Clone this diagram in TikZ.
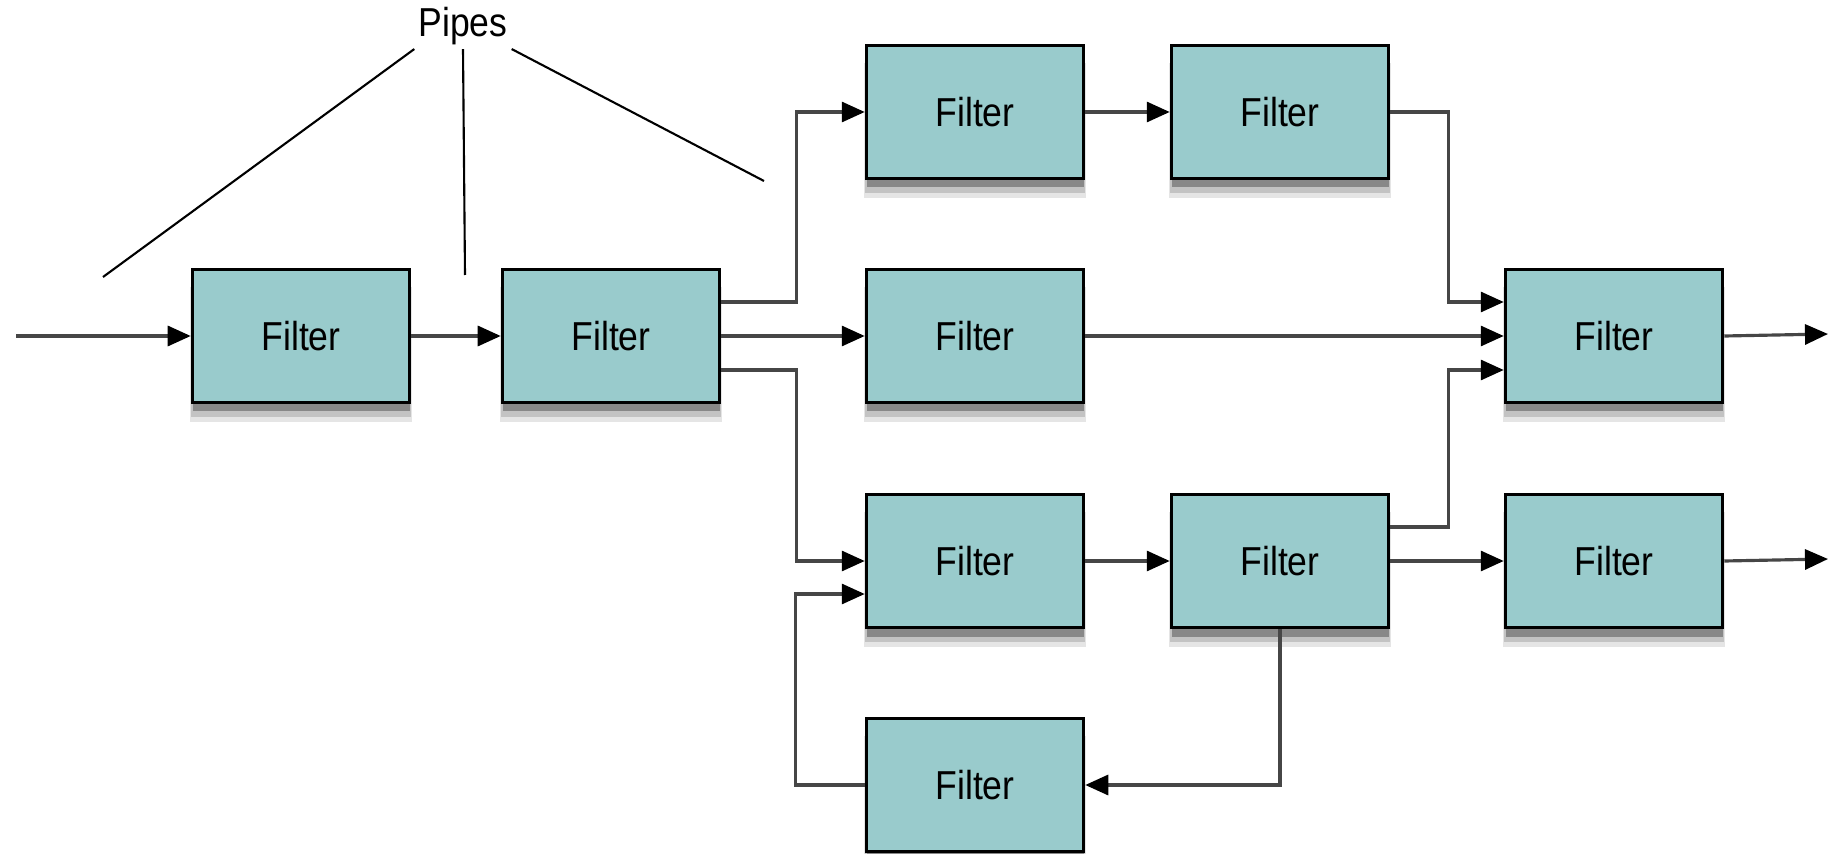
\documentclass[tikz,border=0pt]{standalone}
\usepackage{fontspec}
\setmainfont{Liberation Sans}[FakeStretch=0.88]
\usetikzlibrary{arrows.meta,shadows}
\definecolor{filterfill}{RGB}{153,203,204}
\definecolor{pipegray}{RGB}{70,70,70}
\tikzset{
    filter-box/.style = {draw=black, fill=filterfill, line width=1pt, rectangle, minimum width=21.7mm, minimum height=13.3mm, font=\fontsize{11.5}{13}\selectfont,
        general shadow={shadow yshift=-1.8mm, shadow scale=1.02, opacity=0.10, fill=black},
        general shadow={shadow yshift=-1.4mm, shadow scale=1.01, opacity=0.15, fill=black},
        general shadow={shadow yshift=-0.9mm, opacity=0.30, fill=black}},
    pipe/.style = {draw=pipegray, line width=0.9pt, -{Triangle[length=2.3mm, width=2mm, color=black]}},
    label-line/.style = {draw=black, line width=0.6pt},
}

\begin{document}
\begin{tikzpicture}[x=0.1mm, y=-0.1mm]
\useasboundingbox (0,0) rectangle (1828,854);
% filters
\node[filter-box] (f1) at (301,336) {Filter};
\node[filter-box] (f2) at (611,336) {Filter};
\node[filter-box] (top1) at (975,112) {Filter};
\node[filter-box] (top2) at (1280,112) {Filter};
\node[filter-box] (mid) at (975,336) {Filter};
\node[filter-box] (join) at (1614,336) {Filter};
\node[filter-box] (low1) at (975,561) {Filter};
\node[filter-box] (low2) at (1280,561) {Filter};
\node[filter-box] (low3) at (1614,561) {Filter};
\node[filter-box] (loop) at (975,785) {Filter};
% label and its lines
\node[font=\fontsize{11.5}{13}\selectfont, inner sep=1pt] (pipes) at (463,26) {Pipes};
\coordinate (pipeA) at (103,277);
\coordinate (pipeB) at (465,275);
\coordinate (pipeC) at (764,181);
\draw[label-line] (pipes.south west) -- (pipeA);
\draw[label-line] (pipes.south) -- (pipeB);
\draw[label-line] (pipes.south east) -- (pipeC);
% free ends
\coordinate (in) at (16,336);
\coordinate (out1) at (1828,334);
\coordinate (out2) at (1828,559);
% pipes
\draw[pipe] (in) -- (f1.west);
\draw[pipe] (f1) -- (f2);
\draw[pipe] ([yshift=3.4mm]f2.east) -- ++(75,0) |- (top1.west);
\draw[pipe] (f2) -- (mid);
\draw[pipe] ([yshift=-3.4mm]f2.east) -- ++(75,0) |- (low1.west);
\draw[pipe] (top1) -- (top2);
\draw[pipe] (top2.east) -- ++(58,0) |- ([yshift=3.4mm]join.west);
\draw[pipe] (mid) -- (join);
\draw[pipe] ([yshift=3.4mm]low2.east) -- ++(58,0) |- ([yshift=-3.4mm]join.west);
\draw[pipe] (low1) -- (low2);
\draw[pipe] (low2) -- (low3);
\draw[pipe] (low2.south) |- (loop.east);
\draw[pipe] (loop.west) -- ++(-69,0) |- ([yshift=-3.3mm]low1.west);
\draw[pipe] (join.east) -- (out1);
\draw[pipe] (low3.east) -- (out2);
\end{tikzpicture}
\end{document}
